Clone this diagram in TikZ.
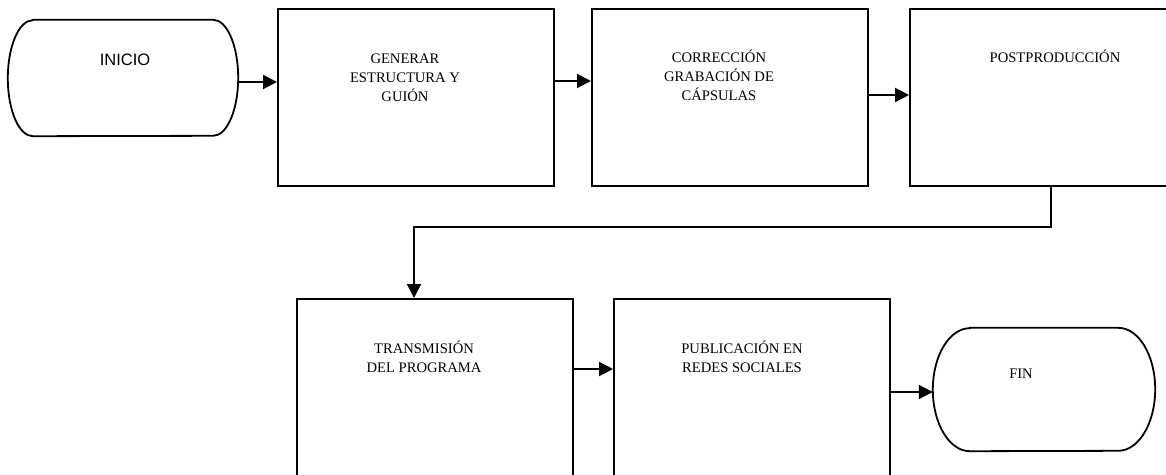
\documentclass[tikz,border=0pt]{standalone}
\usepackage{fontspec}
\setmainfont{Liberation Serif}
\newfontfamily\sansf{Liberation Sans}
\usetikzlibrary{arrows.meta}
\begin{document}
\begin{tikzpicture}[x=1pt,y=1pt,
  boxshape/.style={draw=black, line width=2pt, minimum width=276pt, minimum height=177pt, inner sep=0pt},
  termshape/.style={draw=none, inner sep=0pt},
  outline/.style={draw=black, line width=1.8pt},
  lbl/.style={anchor=base, align=center, inner sep=0pt, font=\fontsize{14.6}{19}\selectfont, text=black},
  arr/.style={draw=black, line width=2pt, -{Triangle[length=14pt,width=14pt]}}]
\useasboundingbox (0,0) rectangle (1166,-474);
\clip (0,0) rectangle (1166,-474);
\fill[white] (0,0) rectangle (1166,-474);
% terminals
\node[termshape, minimum width=230pt, minimum height=116pt] (A) at (123,-78) {};
\draw[outline] ([xshift=25pt]A.north west) -- ([xshift=-25pt]A.north east)
  arc[start angle=90, end angle=-90, x radius=25pt, y radius=58pt]
  -- ([xshift=25pt]A.south west)
  arc[start angle=270, end angle=90, x radius=25pt, y radius=58pt] -- cycle;
\node[termshape, minimum width=222pt, minimum height=123pt] (G) at (1044,-389.5) {};
\draw[outline] ([xshift=37pt]G.north west) -- ([xshift=-37pt]G.north east)
  arc[start angle=90, end angle=-90, x radius=37pt, y radius=61.5pt]
  -- ([xshift=37pt]G.south west)
  arc[start angle=270, end angle=90, x radius=37pt, y radius=61.5pt] -- cycle;
% boxes
\node[boxshape] (B) at (416,-97.5) {};
\node[boxshape] (C) at (730,-97.5) {};
\node[boxshape] (D) at (1048,-97.5) {};
\node[boxshape] (E) at (435,-387.5) {};
\node[boxshape] (F) at (752,-387.5) {};
% labels (anchor=base is the baseline of the last line)
\node[lbl, font=\sansf\fontsize{16.5}{19}\selectfont] (tA) at (125,-65) {INICIO};
\node[lbl] (tB) at (405,-101.5) {GENERAR\\ESTRUCTURA Y\\GUIÓN};
\node[lbl] (tC) at (719,-100.5) {CORRECCIÓN\\GRABACIÓN DE\\CÁPSULAS};
\node[lbl] (tD) at (1055,-62) {POSTPRODUCCIÓN};
\node[lbl] (tE) at (424,-372) {TRANSMISIÓN\\DEL PROGRAMA};
\node[lbl] (tF) at (742,-372) {PUBLICACIÓN EN\\REDES SOCIALES};
\node[lbl] (tG) at (1021,-378) {FIN};
% connectors
\draw[arr] (A.east |- 0,-82) -- (B.west |- 0,-82);
\draw[arr] (B.east |- 0,-81) -- (C.west |- 0,-81);
\draw[arr] (C.east |- 0,-95) -- (D.west |- 0,-95);
\coordinate (d1) at (1051,-227);
\coordinate (d2) at (414,-227);
\draw[arr] (D.south -| d1) -- (d1) -- (d2) -- (d2 |- E.north);
\draw[arr] (E.east |- 0,-369) -- (F.west |- 0,-369);
\draw[arr] (F.east |- 0,-392) -- (G.west |- 0,-392);
\end{tikzpicture}
\end{document}
